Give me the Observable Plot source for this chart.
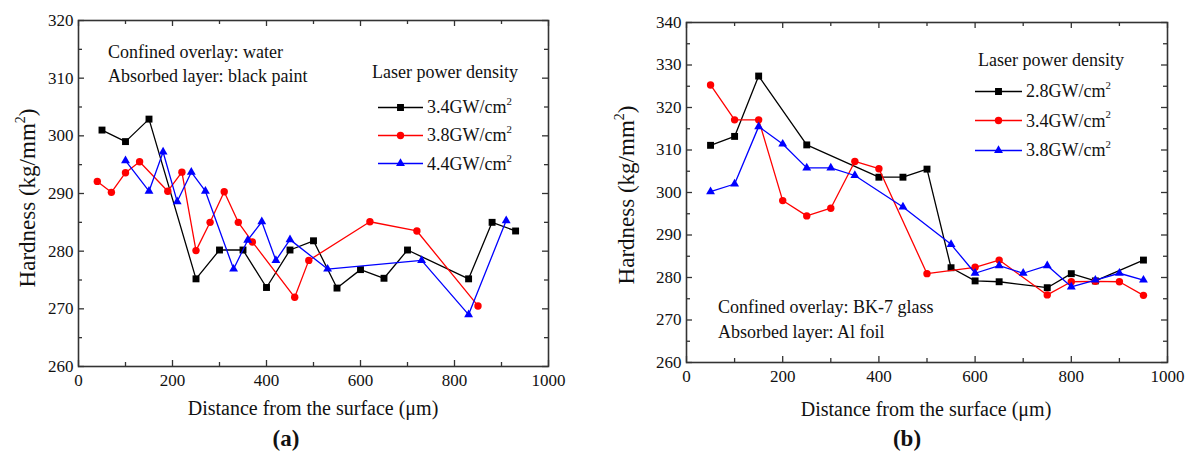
<!DOCTYPE html>
<html>
<head>
<meta charset="utf-8">
<script src="https://cdn.jsdelivr.net/npm/d3@7"></script>
<script src="https://cdn.jsdelivr.net/npm/@observablehq/plot@0.6"></script>
<style>
  body { margin: 0; background: #fff; }
  #wrap { position: relative; width: 1188px; height: 454px; overflow: hidden; font-family: "Liberation Serif", "Times New Roman", serif; color: #111; }
  .panel { position: absolute; top: 0; }
  .txt { position: absolute; white-space: nowrap; line-height: 1; transform: translateY(-50%); font-size: 18px; }
  .ctr { transform: translate(-50%, -50%); }
  .rot { transform: translate(-50%, -50%) rotate(-90deg); font-size: 23px; }
  .xt { font-size: 20px; }
  .cap { font-weight: bold; font-size: 23px; }
  .row { position: absolute; display: flex; align-items: center; transform: translateY(-50%); font-size: 18px; white-space: nowrap; }
  .row svg { display: block; margin-right: 4px; }
  sup { font-size: 0.6em; vertical-align: 0; position: relative; top: -0.75em; }
</style>
</head>
<body>
<div id="wrap"></div>
<script>
// (a) water overlay + black paint absorber
const distA1 = [50, 100, 150, 250, 300, 350, 400, 450, 500, 550, 600, 650, 700, 830, 880, 930];
const hardA1 = [301, 299, 302.9, 275.2, 280.2, 280.2, 273.7, 280.2, 281.8, 273.6, 276.8, 275.3, 280.2, 275.2, 285, 283.5];
const distA2 = [40, 70, 100, 130, 190, 220, 250, 280, 310, 340, 370, 460, 490, 620, 720, 850];
const hardA2 = [292.1, 290.2, 293.6, 295.5, 290.4, 293.7, 280.1, 285, 290.3, 285, 281.6, 272, 278.4, 285.1, 283.5, 270.5];
const distA3 = [100, 150, 180, 210, 240, 270, 330, 360, 390, 420, 450, 530, 730, 830, 910];
const hardA3 = [295.7, 290.4, 297.2, 288.6, 293.7, 290.4, 276.9, 281.9, 285.1, 278.4, 282, 276.9, 278.4, 269, 285.3];
const labelsA = ["3.4GW/cm", "3.8GW/cm", "4.4GW/cm"];

// (b) BK-7 glass overlay + Al foil absorber
const distB1 = [50, 100, 150, 250, 400, 450, 500, 550, 600, 650, 750, 800, 850, 950];
const hardB1 = [311.1, 313.2, 327.4, 311.2, 303.6, 303.6, 305.5, 282.3, 279.2, 279, 277.6, 280.9, 279.2, 284.1];
const distB2 = [50, 100, 150, 200, 250, 300, 350, 400, 500, 600, 650, 750, 800, 850, 900, 950];
const hardB2 = [325.3, 317.1, 317.1, 298.1, 294.5, 296.3, 307.3, 305.6, 280.9, 282.4, 284.1, 275.9, 279, 279.1, 279, 275.8];
const distB3 = [50, 100, 150, 200, 250, 300, 350, 450, 550, 600, 650, 700, 750, 800, 850, 900, 950];
const hardB3 = [300.2, 302, 315.5, 311.4, 305.8, 305.8, 304, 296.6, 287.8, 281, 282.8, 281, 282.8, 277.8, 279.4, 281, 279.4];
const labelsB = ["2.8GW/cm", "3.4GW/cm", "3.8GW/cm"];

const xTicks = [0, 200, 400, 600, 800, 1000];
const colors = ["#000000", "#ff0000", "#0000ff"];
const symbols = ["square", "circle", "triangle"];
const radii = [3.9, 3.7, 3.3];
const AX = "#333";

const wrap = document.getElementById("wrap");

function rows(xs, ys) { return xs.map((x, i) => ({x, y: ys[i]})); }

function panel({series, yDomain, width, height, marginLeft, marginRight, marginTop, marginBottom}) {
  const plotH = height - marginTop - marginBottom;
  const plotW = width - marginLeft - marginRight;
  const xMinor = xTicks.slice(0, -1).map(v => v + 100);
  const yMajor = d3.range(yDomain[0], yDomain[1] + 1, 10);
  const yMinor = yMajor.slice(0, -1).map(v => v + 5);
  const tickStyle = {stroke: AX, strokeWidth: 1.3};
  // ticks point into the frame on all four sides
  const inward = (vals, len) => [
    Plot.tickX(vals, {x: d => d, insetTop: plotH - len, ...tickStyle}),
    Plot.tickX(vals, {x: d => d, insetBottom: plotH - len, ...tickStyle}),
  ];
  const inwardY = (vals, len) => [
    Plot.tickY(vals, {y: d => d, insetRight: plotW - len, ...tickStyle}),
    Plot.tickY(vals, {y: d => d, insetLeft: plotW - len, ...tickStyle}),
  ];
  const marks = [
    ...inward(xTicks, 6), ...inward(xMinor, 4),
    ...inwardY(yMajor, 6), ...inwardY(yMinor, 4),
    Plot.axisX({ticks: xTicks, tickFormat: d => String(d), tickSize: 0, tickPadding: 7, label: null, fontSize: 17, fill: "#111"}),
    Plot.axisY({ticks: yMajor, tickFormat: d => String(d), tickSize: 0, tickPadding: 5, label: null, fontSize: 17, fill: "#111"}),
  ];
  series.forEach((s, i) => {
    marks.push(Plot.line(s, {x: "x", y: "y", stroke: colors[i], strokeWidth: 1.3}));
    marks.push(Plot.dot(s, {x: "x", y: "y", fill: colors[i], stroke: "none", symbol: symbols[i], r: radii[i]}));
  });
  marks.push(Plot.frame({stroke: AX, strokeWidth: 1.6}));
  return Plot.plot({
    width, height, marginLeft, marginRight, marginTop, marginBottom,
    x: {domain: [0, 1000]},
    y: {domain: yDomain},
    style: {fontFamily: '"Liberation Serif", "Times New Roman", serif', fontSize: "17px", color: "#111", background: "transparent"},
    marks
  });
}

function place(cls, html, left, top) {
  const d = document.createElement("div");
  d.className = cls;
  d.innerHTML = html;
  d.style.left = left + "px";
  d.style.top = top + "px";
  wrap.appendChild(d);
  return d;
}

function legendRow(i, label, left, top, len) {
  const sym = d3.symbol(d3["symbol" + symbols[i][0].toUpperCase() + symbols[i].slice(1)], Math.PI * radii[i] * radii[i])();
  const svg = `<svg width="${len}" height="14"><line x1="0" x2="${len}" y1="7" y2="7" stroke="${colors[i]}" stroke-width="1.3"/>` +
    `<path d="${sym}" transform="translate(${len / 2},7)" fill="${colors[i]}"/></svg>`;
  place("row", svg + `<span>${label}<sup>2</sup></span>`, left, top);
}

const seriesA = [rows(distA1, hardA1), rows(distA2, hardA2), rows(distA3, hardA3)];
const seriesB = [rows(distB1, hardB1), rows(distB2, hardB2), rows(distB3, hardB3)];

const pa = place("panel", "", 0, 0);
pa.appendChild(panel({series: seriesA, yDomain: [260, 320], width: 590, height: 420, marginLeft: 78, marginRight: 42, marginTop: 20, marginBottom: 54}));

const pb = place("panel", "", 600, 0);
pb.appendChild(panel({series: seriesB, yDomain: [260, 340], width: 588, height: 420, marginLeft: 86, marginRight: 21, marginTop: 22, marginBottom: 58}));

// axis titles
place("txt rot", "Hardness (kg/mm<sup>2</sup>)", 27, 198);
place("txt ctr xt", "Distance from the surface (μm)", 313, 408);
place("txt rot", "Hardness (kg/mm<sup>2</sup>)", 626, 195);
place("txt ctr xt", "Distance from the surface (μm)", 926, 409);

// panel captions
place("txt ctr cap", "(<b>a</b>)", 286, 438);
place("txt ctr cap", "(<b>b</b>)", 907, 438);

// condition notes
place("txt", "Confined overlay: water", 108, 52);
place("txt", "Absorbed layer: black paint", 108, 76);
place("txt", "Confined overlay: BK-7 glass", 718, 307);
place("txt", "Absorbed layer: Al foil", 718, 332);

// legends
place("txt", "Laser power density", 372, 72);
labelsA.forEach((l, i) => legendRow(i, l, 378, 107 + i * 28.3, 45));
place("txt", "Laser power density", 978, 60);
labelsB.forEach((l, i) => legendRow(i, l, 975, 91 + i * 29.5, 47));
</script>
</body>
</html>
